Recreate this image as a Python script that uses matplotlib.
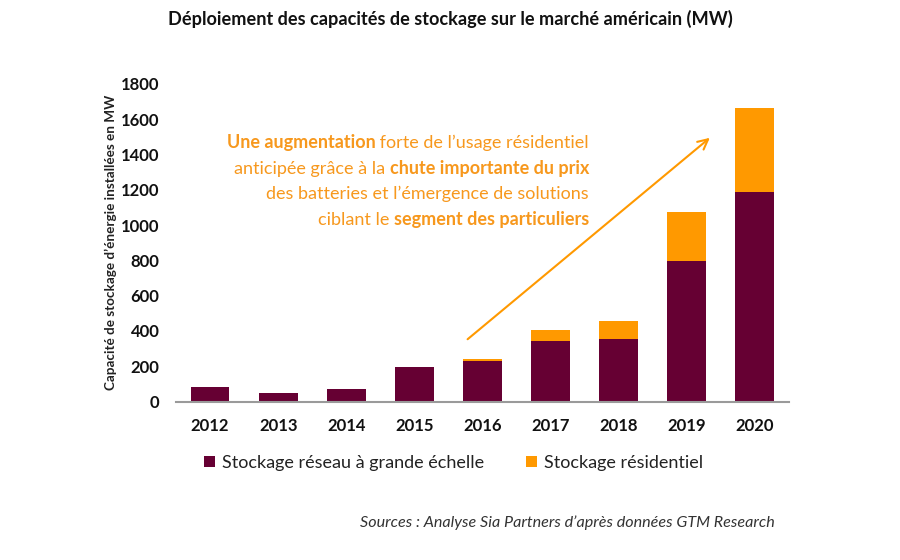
import matplotlib
matplotlib.use("Agg")
import matplotlib.pyplot as plt
from matplotlib.patches import Patch
from matplotlib.offsetbox import TextArea, HPacker, VPacker, AnnotationBbox

plt.rcParams['font.family'] = ['Lato', 'DejaVu Sans']

years = ['2012', '2013', '2014', '2015', '2016', '2017', '2018', '2019', '2020']
grid_scale = [80, 46, 69, 194, 227, 341, 354, 796, 1190]
residential = [0, 0, 0, 0, 16, 64, 100, 280, 472]
series_names = ['Stockage réseau à grande échelle', 'Stockage résidentiel']
yticks = [0, 200, 400, 600, 800, 1000, 1200, 1400, 1600, 1800]

DARK = '#660033'
ORANGE = '#FF9900'
TXT_OR = '#F7981D'

fig = plt.figure(figsize=(9, 5.6), dpi=100)
ax = fig.add_axes([0.1956, 0.283, 0.681, 0.567])

x = list(range(len(years)))
ax.bar(x, grid_scale, width=0.57, color=DARK, zorder=2)
ax.bar(x, residential, width=0.57, bottom=grid_scale, color=ORANGE, zorder=2)

ax.set_xlim(-0.5, 8.5)
ax.set_ylim(0, 1800)
ax.set_yticks(yticks)
ax.set_yticklabels([str(v) for v in yticks], fontsize=12, fontweight='bold', color='#111111')
ax.set_xticks(x)
ax.set_xticklabels(years, fontsize=12, fontweight='bold', color='#111111')
ax.tick_params(axis='both', length=0)
ax.tick_params(axis='x', pad=12)
ax.tick_params(axis='y', pad=12)
for s in ['top', 'right', 'left']:
    ax.spines[s].set_visible(False)
ax.spines['bottom'].set_color('#9a9a9a')
ax.spines['bottom'].set_linewidth(1.5)

ax.set_ylabel("Capacité de stockage d’énergie installées en MW", fontsize=9.7,
              fontweight='bold', color='#222222', labelpad=3)

# arrow
ax.annotate('', xy=(7.37, 1505), xytext=(3.75, 343),
            arrowprops=dict(arrowstyle='->', color=ORANGE, lw=1.5, mutation_scale=18))

# mixed-weight annotation text
lines = [
    [("Une augmentation", 'bold'), (" forte de l’usage résidentiel", 'normal')],
    [("anticipée grâce à la ", 'normal'), ("chute importante du prix", 'bold')],
    [("des batteries et l’émergence de solutions", 'normal')],
    [("ciblant le ", 'normal'), ("segment des particuliers", 'bold')],
]
rows = []
for ln in lines:
    parts = [TextArea(t, textprops=dict(color=TXT_OR, fontsize=13, fontweight=w))
             for t, w in ln]
    rows.append(HPacker(children=parts, pad=0, sep=0, align='baseline'))
box = VPacker(children=rows, pad=0, sep=6.5, align='right')
ab = AnnotationBbox(box, (589 / 900, 1 - 134 / 560), xycoords='figure fraction',
                    box_alignment=(1, 1), frameon=False)
fig.add_artist(ab)

fig.text(0.5, 1 - 19 / 560, "Déploiement des capacités de stockage sur le marché américain (MW)",
         ha='center', va='center', fontsize=13.1, fontweight='bold', color='#111111')

handles = [Patch(facecolor=DARK), Patch(facecolor=ORANGE)]
fig.legend(handles, series_names, loc='center', bbox_to_anchor=(0.504, 1 - 463 / 560),
           ncol=2, frameon=False, fontsize=13, handlelength=0.6, handleheight=0.6,
           handletextpad=0.4, columnspacing=2.3, labelcolor='#222222')

fig.text(775 / 900, 1 - 523 / 560, "Sources : Analyse Sia Partners d’après données GTM Research",
         ha='right', va='center', fontsize=11.6, style='italic', color='#333333')

fig.savefig('out.png', dpi=100, facecolor='white')
